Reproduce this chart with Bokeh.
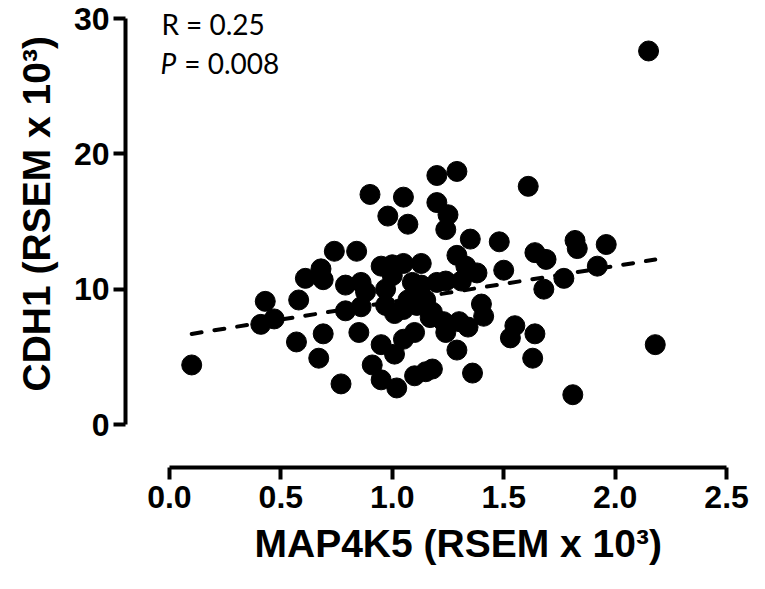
import numpy as np
from bokeh.plotting import figure
from bokeh.models import Range1d, Label, Title, ColumnDataSource, FixedTicker, NumeralTickFormatter
from bokeh.embed import file_html
from bokeh.resources import INLINE

# ---- data ----
map4k5 = [2.15, 1.20, 1.29, 0.90, 1.05, 1.20, 1.61, 1.25, 1.24, 0.98,
          1.07, 1.35, 1.48, 1.82, 1.83, 1.96, 0.74, 0.84, 1.29, 1.64,
          1.69, 0.68, 0.61, 0.69, 0.95, 1.00, 1.05, 1.13, 1.33, 1.38,
          1.50, 0.79, 0.86, 0.88, 0.97, 1.00, 1.09, 1.13, 1.20, 1.24,
          1.31, 1.77, 1.92, 1.68, 0.43, 0.58, 0.41, 0.47, 0.79, 0.86,
          0.97, 1.01, 1.07, 1.11, 1.15, 1.18, 1.23, 1.24, 0.69, 0.57,
          0.85, 0.95, 1.05, 1.10, 1.40, 1.41, 1.30, 1.34, 1.55, 1.53,
          1.64, 2.18, 1.29, 1.63, 1.36, 1.18, 1.15, 1.10, 1.81, 1.01,
          0.91, 0.67, 0.10, 0.95, 1.02, 0.77, 1.12, 1.17, 1.05]
cdh1 = [27.6, 18.4, 18.7, 17.0, 16.8, 16.4, 17.6, 15.5, 14.4, 15.4,
        14.8, 13.7, 13.5, 13.6, 13.0, 13.3, 12.8, 12.8, 12.5, 12.7,
        12.2, 11.5, 10.8, 10.7, 11.7, 11.8, 11.9, 11.9, 11.7, 11.2,
        11.4, 10.3, 10.5, 9.8, 10.0, 11.0, 10.5, 10.3, 10.5, 10.6,
        10.6, 10.8, 11.7, 10.0, 9.1, 9.2, 7.4, 7.8, 8.4, 8.7,
        8.8, 8.2, 9.2, 8.8, 9.2, 8.3, 7.6, 6.8, 6.7, 6.1,
        6.8, 5.9, 6.3, 6.8, 8.9, 8.0, 7.6, 7.2, 7.3, 6.4,
        6.7, 5.9, 5.5, 4.9, 3.8, 4.1, 3.9, 3.6, 2.2, 5.2,
        4.4, 4.9, 4.4, 3.3, 2.7, 3.0, 9.7, 7.9, 8.5]
x_ticks = [0.0, 0.5, 1.0, 1.5, 2.0, 2.5]
y_ticks = [0, 10, 20, 30]
fit_intercept = 6.43
fit_slope = 2.64
r_text = "R = 0.25"
p_symbol = "P"
p_text = "= 0.008"
x_title = "MAP4K5 (RSEM x 10\u00b3)"
y_title = "CDH1 (RSEM x 10\u00b3)"

src = ColumnDataSource(dict(x=map4k5, y=cdh1))
fx = np.array([min(map4k5), max(map4k5)])
fit_src = ColumnDataSource(dict(x=fx, y=fit_intercept + fit_slope * fx))

p = figure(width=749, height=573, output_backend="svg", toolbar_location=None,
           x_range=Range1d(-0.1971, 2.558), y_range=Range1d(-3.177, 31.33),
           min_border_left=124, min_border_right=10, min_border_top=0,
           min_border_bottom=106)
p.grid.visible = False
p.outline_line_color = None
p.background_fill_color = "white"
p.border_fill_color = "white"

p.scatter("x", "y", source=src, size=20, color="black", marker="circle")
p.line("x", "y", source=fit_src, line_color="black", line_width=4,
       line_dash="10 13", line_cap="round")

for ax in (p.xaxis[0], p.yaxis[0]):
    ax.axis_line_width = 4
    ax.axis_line_color = "black"
    ax.major_tick_line_width = 4
    ax.major_tick_line_color = "black"
    ax.major_tick_out = 12
    ax.major_tick_in = 0
    ax.minor_tick_line_color = None
    ax.major_label_text_font = "Liberation Sans"
    ax.major_label_text_font_style = "bold"
    ax.major_label_text_font_size = "32px"
    ax.major_label_text_color = "black"

p.xaxis[0].bounds = (x_ticks[0], x_ticks[-1])
p.xaxis[0].ticker = FixedTicker(ticks=x_ticks)
p.xaxis[0].formatter = NumeralTickFormatter(format="0.0")
p.xaxis[0].major_label_standoff = 6

p.yaxis[0].bounds = (y_ticks[0], y_ticks[-1])
p.yaxis[0].ticker = FixedTicker(ticks=y_ticks)
p.yaxis[0].formatter = NumeralTickFormatter(format="0")
p.yaxis[0].major_label_standoff = 4

# axis titles as side titles, placed along the axis extents
p.add_layout(Title(text=x_title, align="left", offset=129, standoff=18,
                   text_font="Liberation Sans", text_font_style="bold",
                   text_font_size="39px", text_color="black"), "below")
p.add_layout(Title(text=y_title, align="left", offset=76, standoff=25,
                   text_font="Liberation Sans", text_font_style="bold",
                   text_font_size="39px", text_color="black"), "left")

for txt, x, y, style in [(r_text, -0.036, 29.56, "normal"),
                         (p_symbol, -0.040, 26.68, "italic"),
                         (p_text, 0.067, 26.68, "normal")]:
    p.add_layout(Label(x=x, y=y, text=txt, text_font="Lato", text_font_size="28px",
                       text_font_style=style, text_color="black",
                       text_baseline="alphabetic", text_align="left"))

open("out.html", "w").write(file_html(p, INLINE))
